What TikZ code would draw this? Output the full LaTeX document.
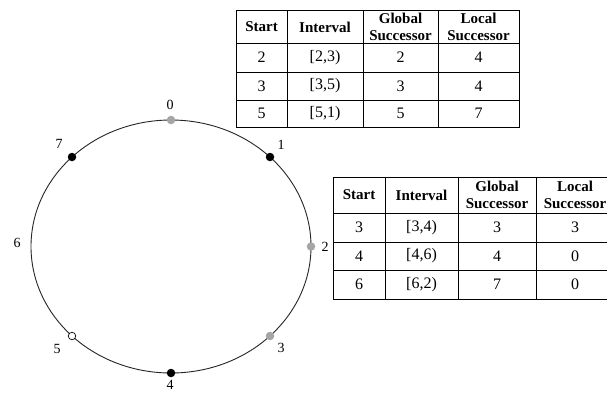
\documentclass[tikz,border=0pt]{standalone}
\usepackage{fontspec}
\setmainfont{Liberation Serif}
\definecolor{dotgray}{RGB}{165,165,165}
\begin{document}
\begin{tikzpicture}[x=1pt,y=-1pt,
  ring/.style={draw=black!85, line width=0.9pt},
  blackdot/.style={circle, fill=black, inner sep=0pt, minimum size=8.5pt},
  graydot/.style={circle, fill=dotgray, inner sep=0pt, minimum size=8.5pt},
  whitedot/.style={circle, draw=black, fill=white, line width=0.7pt, inner sep=0pt, minimum size=7.5pt},
  lbl/.style={font=\fontsize{14}{14}\selectfont, inner sep=0pt},
  tline/.style={draw=black, line width=1pt},
  hd/.style={font=\fontsize{15}{16.5}\selectfont\bfseries, align=center, inner sep=0pt},
  cell/.style={font=\fontsize{16}{16}\selectfont, inner sep=0pt}
]
\useasboundingbox (0,0) rectangle (607,392);
\clip (0,0) rectangle (607,392);
\fill[white] (0,0) rectangle (607,392);

% ring
\coordinate (c) at (171,246.5);
\draw[ring] (c) ellipse [x radius=140pt, y radius=126.5pt];
\coordinate (p6) at (31,246.5);

% dots
\node[graydot]  (p0) at (171,120) {};
\node[blackdot] (p1) at (270,157) {};
\node[graydot]  (p2) at (311,246.5) {};
\node[graydot]  (p3) at (270,336) {};
\node[blackdot] (p4) at (171,373) {};
\node[whitedot] (p5) at (72,336) {};
\node[blackdot] (p7) at (72,157) {};

% labels
\node[lbl] (l0) at (170,105) {0};
\node[lbl] (l1) at (281,145) {1};
\node[lbl] (l2) at (325,247) {2};
\node[lbl] (l3) at (281,348) {3};
\node[lbl] (l4) at (170,385) {4};
\node[lbl] (l5) at (57,349) {5};
\node[lbl] (l6) at (17,243) {6};
\node[lbl] (l7) at (59,144) {7};

% table 1
\draw[tline] (236,10) rectangle (519,127);
\foreach \yy in {43,72,100} \draw[tline] (236,\yy) -- (519,\yy);
\foreach \xx in {287,363,438} \draw[tline] (\xx,10) -- (\xx,127);
\node[hd] (ta1) at (261.5,27) {Start};
\node[hd] (ta2) at (325,27) {Interval};
\node[hd] (ta3) at (400.5,27) {Global\\Successor};
\node[hd] (ta4) at (478.5,27) {Local\\Successor};
\node[cell] (ta11) at (261.5,57.5) {2};
\node[cell] (ta12) at (325,57.5) {[2,3)};
\node[cell] (ta13) at (400.5,57.5) {2};
\node[cell] (ta14) at (478.5,57.5) {4};
\node[cell] (ta21) at (261.5,86) {3};
\node[cell] (ta22) at (325,86) {[3,5)};
\node[cell] (ta23) at (400.5,86) {3};
\node[cell] (ta24) at (478.5,86) {4};
\node[cell] (ta31) at (261.5,113.5) {5};
\node[cell] (ta32) at (325,113.5) {[5,1)};
\node[cell] (ta33) at (400.5,113.5) {5};
\node[cell] (ta34) at (478.5,113.5) {7};

% table 2
\draw[tline] (333,177) rectangle (616,299);
\foreach \yy in {213,242,270} \draw[tline] (333,\yy) -- (616,\yy);
\foreach \xx in {385,458,536} \draw[tline] (\xx,177) -- (\xx,299);
\node[hd] (tb1) at (359,195) {Start};
\node[hd] (tb2) at (421.5,195) {Interval};
\node[hd] (tb3) at (497,195) {Global\\Successor};
\node[hd] (tb4) at (575,195) {Local\\Successor};
\node[cell] (tb11) at (359,227.5) {3};
\node[cell] (tb12) at (421.5,227.5) {[3,4)};
\node[cell] (tb13) at (497,227.5) {3};
\node[cell] (tb14) at (575,227.5) {3};
\node[cell] (tb21) at (359,256) {4};
\node[cell] (tb22) at (421.5,256) {[4,6)};
\node[cell] (tb23) at (497,256) {4};
\node[cell] (tb24) at (575,256) {0};
\node[cell] (tb31) at (359,284.5) {6};
\node[cell] (tb32) at (421.5,284.5) {[6,2)};
\node[cell] (tb33) at (497,284.5) {7};
\node[cell] (tb34) at (575,284.5) {0};
\end{tikzpicture}
\end{document}
